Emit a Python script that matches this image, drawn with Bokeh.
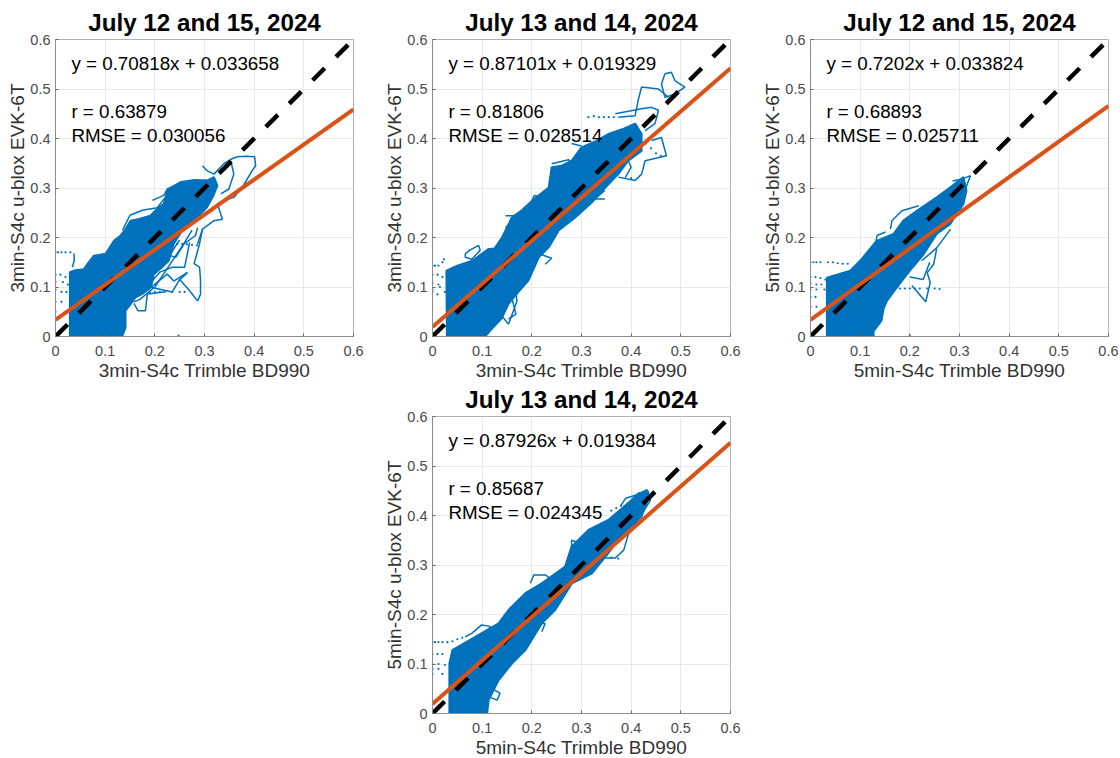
from bokeh.plotting import figure
from bokeh.layouts import column, row
from bokeh.models import FixedTicker, Spacer, Title
from bokeh.embed import file_html
from bokeh.resources import INLINE
from bokeh.core.properties import value

BLUE = "#0072BD"
ORANGE = "#D95319"
FONT = "Liberation Sans"

ticks = [0, 0.1, 0.2, 0.3, 0.4, 0.5, 0.6]
tick_labels = ["0", "0.1", "0.2", "0.3", "0.4", "0.5", "0.6"]
ref_x = [0, 0.6]
ref_y = [0, 0.6]
fit_x = [0, 0.6]

# ---- panel A: 3 min, July 12 and 15
a_title = "July 12 and 15, 2024"
a_xlabel = "3min-S4c Trimble BD990"
a_ylabel = "3min-S4c u-blox EVK-6T"
a_eq = "y = 0.70818x + 0.033658"
a_r = "r = 0.63879"
a_rmse = "RMSE = 0.030056"
a_fit_y = [0.0337, 0.4586]
a_body_x = [.029, .029, .04, .057, .064, .077, .09, .101, .118, .13, .141, .151, .17, .191, .205, .218, .225, .238, .252, .28, .305, .319, .326, .318, .305, .279, .255, .238, .228, .21, .198, .192, .175, .161, .15, .141, .141, .134]
a_body_y = [0, .130, .134, .136, .146, .163, .165, .167, .194, .203, .217, .234, .238, .244, .258, .268, .295, .304, .312, .316, .315, .322, .305, .285, .261, .234, .214, .187, .153, .136, .126, .099, .086, .079, .064, .052, .018, 0]
a_curves_x = [
    [.296, .305, .319, .339, .353, .366, .385, .401, .403, .396, .376, .359, .339, .326, .336, .319, .296, .286],
    [.353, .359, .349, .333],
    [.249, .268, .286, .292, .292, .290, .279, .29, .296],
    [.135, .145, .15, .175, .205, .22],
    [.195, .218, .225, .255, .305],
    [.158, .17, .2, .22, .24, .26, .275],
    [.175, .21, .235, .26, .27],
    [.19, .235, .25, .266],
    [.037, .038, .034],
    [.158, .166, .181, .185, .218],
    [.192, .225, .238, .265],
    [.205, .218, .242, .259, .282, .286],
    [.19, .205, .225, .24, .25],
]
a_curves_y = [
    [.345, .335, .328, .349, .358, .363, .364, .363, .345, .335, .301, .281, .274, .268, .237, .234, .217, .187],
    [.355, .328, .298, .288],
    [.116, .095, .072, .085, .115, .14, .147, .187, .217],
    [.215, .235, .245, .255, .26, .28],
    [.275, .285, .298, .312, .315],
    [.07, .075, .1, .13, .16, .19, .215],
    [.09, .13, .14, .14, .19],
    [.10, .09, .115, .129],
    [.168, .155, .14],
    [.067, .052, .052, .086, .09],
    [.099, .126, .112, .129],
    [.146, .167, .160, .187, .204, .22],
    [.16, .165, .155, .18, .195],
]
a_dots_x = [.178, .19, .2, .21, .22, .235, .25, .26, 0, .005, .012, .02, .03, 0, .01, .02, 0, .015, .025, 0, .012, .022, 0, .012, 0, .02, .248, .245, .255, .265, .275, .285]
a_dots_y = [.09, .09, .09, .09, .09, .09, .09, .09, .17, .17, .17, .17, .17, .125, .125, .12, .11, .11, .105, .095, .09, .09, .07, .07, .05, .05, .002, .187, .187, .186, .185, .184]

# ---- panel B: 3 min, July 13 and 14
b_title = "July 13 and 14, 2024"
b_xlabel = "3min-S4c Trimble BD990"
b_ylabel = "3min-S4c u-blox EVK-6T"
b_eq = "y = 0.87101x + 0.019329"
b_r = "r = 0.81806"
b_rmse = "RMSE = 0.028514"
b_fit_y = [0.0193, 0.5419]
b_body_x = [.029, .028, .05, .08, .113, .125, .14, .16, .18, .2, .234, .24, .26, .28, .30, .33, .354, .385, .408, .421, .421, .394, .374, .348, .32, .288, .254, .234, .214, .193, .173, .153, .139, .118, .106]
b_body_y = [0, .133, .143, .153, .177, .178, .2, .241, .255, .274, .301, .342, .345, .355, .382, .395, .409, .42, .43, .409, .375, .355, .328, .301, .27, .241, .214, .18, .16, .113, .09, .066, .036, .014, 0]
b_curves_x = [
    [.468, .481, .488, .508, .488, .468, .461, .468],
    [.374, .408, .414, .421, .455, .475],
    [.368, .421, .441, .455, .448, .428],
    [.441, .461, .471, .428, .421, .408, .374],
    [.24, .274, .294, .247],
    [.066, .076, .093, .096, .079, .066, .066],
    [.160, .168, .153],
    [.147, .173, .147],
    [.28, .30],
    [.2, .205, .225, .235],
    [.167, .170, .153, .14],
    [.22, .24, .227],
    [.347, .327, .347],
    [.394, .4, .388],
]
b_curves_y = [
    [.531, .534, .517, .504, .49, .483, .51, .531],
    [.443, .446, .477, .504, .5, .483],
    [.45, .46, .463, .457, .43, .416],
    [.396, .402, .365, .355, .328, .315, .322],
    [.349, .357, .342, .328],
    [.167, .175, .184, .174, .156, .160, .167],
    [.077, .045, .035],
    [.244, .244, .22],
    [.39, .385],
    [.274, .285, .28, .27],
    [.098, .071, .025, .041],
    [.165, .158, .146],
    [.295, .278, .278],
    [.355, .342, .321],
]
b_dots_x = [.314, .325, .335, .345, .355, .365, 0, .005, .012, .02, .023, 0, .01, .02, 0, .012, 0, .015, .025, 0, .01, .4, .43, .44, .45, .46]
b_dots_y = [.443, .445, .443, .443, .443, .443, .143, .143, .143, .15, .156, .125, .125, .12, .108, .105, .095, .1, .09, .09, .085, .32, .39, .38, .37, .365]

# ---- panel C: 5 min, July 12 and 15
c_title = "July 12 and 15, 2024"
c_xlabel = "5min-S4c Trimble BD990"
c_ylabel = "5min-S4c u-blox EVK-6T"
c_eq = "y = 0.7202x + 0.033824"
c_r = "r = 0.68893"
c_rmse = "RMSE = 0.025711"
c_fit_y = [0.0338, 0.4659]
c_body_x = [.033, .033, .08, .1, .133, .167, .187, .214, .254, .281, .308, .314, .308, .281, .254, .227, .2, .177, .167, .154, .147, .143, .127, .127]
c_body_y = [0, .119, .133, .153, .193, .207, .234, .254, .281, .301, .322, .295, .268, .227, .207, .165, .133, .103, .09, .072, .056, .032, .011, 0]
c_curves_x = [
    [.161, .164, .184, .218],
    [.131, .134, .151],
    [.254, .248, .235, .241, .232, .204],
    [.224, .254, .282],
    [.286, .305, .322, .312],
    [.2, .227, .24],
]
c_curves_y = [
    [.217, .234, .254, .264],
    [.187, .204, .211],
    [.177, .146, .129, .109, .07, .103],
    [.153, .179, .217],
    [.314, .318, .325, .298],
    [.12, .115, .15],
]
c_dots_x = [0, .006, .012, .02, .035, .045, .055, .065, .075, .167, .18, .19, .2, .21, .22, .235, .25, .26, 0, .01, .02, .03, 0, .012, .022, 0, .012, .028, 0, .01, 0, .012, .2]
c_dots_y = [.15, .15, .15, .15, .15, .15, .148, .147, .147, .097, .097, .097, .097, .097, .097, .097, .097, .096, .12, .12, .118, .115, .108, .105, .105, .095, .095, .095, .08, .08, .06, .06, .002]

# ---- panel D: 5 min, July 13 and 14
d_title = "July 13 and 14, 2024"
d_xlabel = "5min-S4c Trimble BD990"
d_ylabel = "5min-S4c u-blox EVK-6T"
d_eq = "y = 0.87926x + 0.019384"
d_r = "r = 0.85687"
d_rmse = "RMSE = 0.024345"
d_fit_y = [0.0194, 0.5469]
d_body_x = [.034, .034, .04, .086, .133, .153, .187, .22, .267, .28, .314, .354, .394, .415, .435, .431, .421, .384, .354, .321, .281, .247, .22, .187, .16, .133, .113, .11]
d_body_y = [0, .101, .128, .155, .182, .209, .243, .263, .297, .337, .371, .391, .425, .445, .448, .425, .398, .364, .324, .283, .263, .209, .182, .128, .101, .067, .027, 0]
d_curves_x = [
    [.378, .389, .409, .432, .439, .422, .395, .385, .368, .348],
    [.197, .204, .227, .241],
    [.066, .079, .099, .116, .110],
    [.214, .227, .22],
    [.116, .136, .13, .113],
    [.28, .28, .3, .31],
]
d_curves_y = [
    [.418, .435, .441, .452, .431, .404, .364, .330, .314, .314],
    [.263, .280, .280, .270],
    [.155, .162, .179, .176, .162],
    [.182, .182, .165],
    [.052, .041, .027, .034],
    [.337, .35, .343, .33],
]
d_dots_x = [0, .005, .012, .02, .03, 0, .01, .02, 0, .012, .025, 0, .012, 0, .02, .36, .37, .38, .374, .35, .36, .04, .05, .06]
d_dots_y = [.144, .144, .144, .144, .144, .12, .12, .12, .1, .1, .098, .09, .09, .08, .08, .41, .415, .42, .313, .32, .315, .146, .15, .153]


def panel(title, xlabel, ylabel, eq, r, rmse, fit_y, body_x, body_y, curves_x, curves_y, dots_x, dots_y,
          right, top, bottom):
    left = 55
    p = figure(width=left + 298 + right, height=top + 297 + bottom, x_range=(0, 0.6), y_range=(0, 0.6),
               output_backend="svg", toolbar_location=None,
               min_border_left=left, min_border_right=right, min_border_top=top, min_border_bottom=bottom,
               x_axis_label=xlabel, y_axis_label=ylabel, tools="")
    p.title = Title(text=title, align="center", text_font=FONT, text_font_size="24.2px",
                    text_font_style="bold", text_color="#000000", standoff=7)
    p.background_fill_color = "#ffffff"
    p.border_fill_color = None
    p.outline_line_color = "#b0b0b0"
    p.outline_line_width = 1
    overrides = {t: l for t, l in zip(ticks, tick_labels)}
    for ax in (p.xaxis[0], p.yaxis[0]):
        ax.ticker = FixedTicker(ticks=ticks)
        ax.major_label_overrides = overrides
        ax.major_label_text_font = FONT
        ax.major_label_text_font_size = "14.5px"
        ax.major_label_text_color = "#4a4a4a"
        ax.axis_label_text_font = FONT
        ax.axis_label_text_font_size = "19px"
        ax.axis_label_text_font_style = "normal"
        ax.axis_label_text_color = "#333333"
        ax.axis_line_color = "#8c8c8c"
        ax.major_tick_line_color = "#666666"
        ax.major_tick_in = 3
        ax.major_tick_out = 0
        ax.minor_tick_line_color = None
    p.xaxis[0].major_label_standoff = 9
    p.xaxis[0].axis_label_standoff = 1
    p.yaxis[0].major_label_standoff = 5
    p.yaxis[0].axis_label_standoff = -1
    for g in (p.xgrid[0], p.ygrid[0]):
        g.ticker = FixedTicker(ticks=ticks)
        g.grid_line_color = "#e8e8e8"
        g.grid_line_width = 1

    p.patch(body_x, body_y, fill_color=BLUE, line_color=BLUE, line_width=2)
    p.multi_line(curves_x, curves_y, line_color=BLUE, line_width=1.5)
    p.scatter(dots_x, dots_y, size=2.2, color=BLUE, line_width=0)
    p.line(ref_x, ref_y, line_color="#000000", line_width=4.5, line_dash="17 16")
    p.line(fit_x, fit_y, line_color=ORANGE, line_width=4)
    for txt, ty in ((eq, 0.5515), (r, 0.454), (rmse, 0.406)):
        p.text([0.032], [ty], text=[txt], text_font=value(FONT), text_font_size="18.8px",
               text_color="#000000", text_baseline="middle", text_align="left")
    return p


p1 = panel(a_title, a_xlabel, a_ylabel, a_eq, a_r, a_rmse, a_fit_y, a_body_x, a_body_y, a_curves_x, a_curves_y, a_dots_x, a_dots_y, 24, 39, 47)
p2 = panel(b_title, b_xlabel, b_ylabel, b_eq, b_r, b_rmse, b_fit_y, b_body_x, b_body_y, b_curves_x, b_curves_y, b_dots_x, b_dots_y, 25, 39, 47)
p3 = panel(c_title, c_xlabel, c_ylabel, c_eq, c_r, c_rmse, c_fit_y, c_body_x, c_body_y, c_curves_x, c_curves_y, c_dots_x, c_dots_y, 10, 39, 47)
p4 = panel(d_title, d_xlabel, d_ylabel, d_eq, d_r, d_rmse, d_fit_y, d_body_x, d_body_y, d_curves_x, d_curves_y, d_dots_x, d_dots_y, 25, 37, 47)
p4.margin = (-4, 0, -4, 0)

layout = column(row(p1, p2, p3), row(Spacer(width=377, height=10), p4))
open("out.html", "w").write(file_html(layout, INLINE))
